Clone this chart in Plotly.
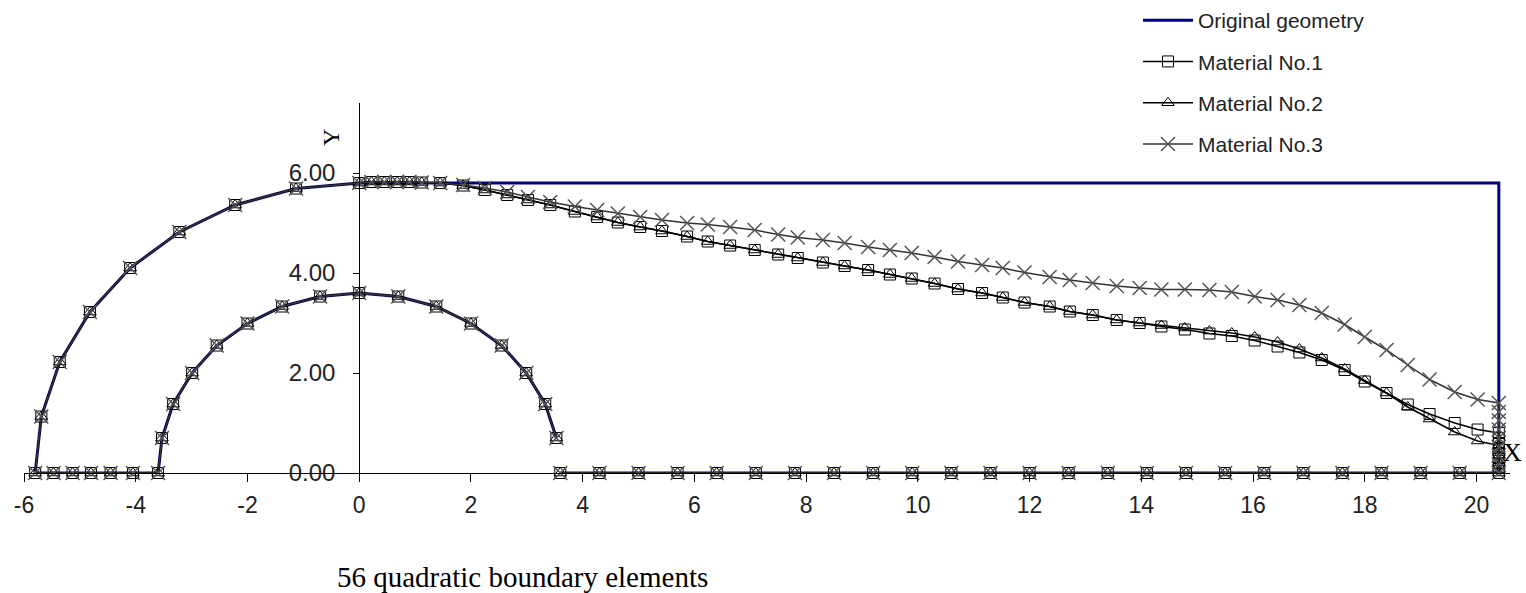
import plotly.graph_objects as go

# ---------------- data ----------------
# inner semicircular arc, from (3.53, 0.70) round to (-3.60, 0)
inner_x = [3.53, 3.33, 2.99, 2.55, 2.00, 1.38, 0.70, 0.00, -0.70, -1.38, -2.00, -2.55, -2.99, -3.33, -3.53, -3.60]
inner_y = [0.70, 1.38, 2.00, 2.55, 2.99, 3.33, 3.53, 3.60, 3.53, 3.33, 2.99, 2.55, 2.00, 1.38, 0.70, 0.00]

# bottom edge, left part (between the two arcs)
bl_x = [-4.05, -4.45, -4.80, -5.13, -5.47]
bl_y = [0.00, 0.00, 0.00, 0.00, 0.00]

# outer quarter arc, from (-5.80, 0) to (0, 5.80)
outer_x = [-5.80, -5.69, -5.36, -4.82, -4.10, -3.22, -2.22, -1.13, 0.00]
outer_y = [0.00, 1.13, 2.22, 3.22, 4.10, 4.82, 5.36, 5.69, 5.80]

# top edge nodes (deformed shapes)
top_x = [0.22, 0.45, 0.68, 0.90, 1.12, 1.45, 1.86, 2.25, 2.65, 3.02,
         3.42, 3.86, 4.26, 4.63, 5.03, 5.42, 5.87, 6.24, 6.64, 7.08,
         7.50, 7.85, 8.30, 8.69, 9.11, 9.50, 9.89, 10.30, 10.72, 11.15,
         11.52, 11.91, 12.36, 12.72, 13.13, 13.56, 13.97, 14.36, 14.78, 15.22,
         15.62, 16.03, 16.44, 16.83, 17.23, 17.64, 18.00, 18.39, 18.77, 19.16,
         19.61, 20.02, 20.40]
m1_top_y = [5.82, 5.82, 5.82, 5.82, 5.81, 5.80, 5.75, 5.66, 5.56, 5.46,
            5.36, 5.23, 5.12, 5.01, 4.92, 4.84, 4.73, 4.63, 4.55, 4.46,
            4.37, 4.30, 4.21, 4.14, 4.06, 3.97, 3.89, 3.79, 3.68, 3.60,
            3.51, 3.41, 3.33, 3.23, 3.16, 3.06, 3.00, 2.93, 2.87, 2.79,
            2.74, 2.65, 2.53, 2.41, 2.26, 2.06, 1.83, 1.60, 1.37, 1.18,
            1.00, 0.87, 0.80]
m2_top_y = [5.82, 5.82, 5.82, 5.82, 5.81, 5.80, 5.75, 5.66, 5.56, 5.46,
            5.36, 5.23, 5.12, 5.01, 4.92, 4.84, 4.73, 4.63, 4.55, 4.46,
            4.37, 4.30, 4.21, 4.14, 4.06, 3.97, 3.89, 3.79, 3.68, 3.60,
            3.51, 3.41, 3.33, 3.23, 3.16, 3.06, 3.00, 2.95, 2.90, 2.84,
            2.80, 2.72, 2.62, 2.48, 2.30, 2.08, 1.85, 1.60, 1.32, 1.08,
            0.82, 0.64, 0.55]
m3_top_y = [5.82, 5.82, 5.82, 5.82, 5.81, 5.80, 5.76, 5.70, 5.62, 5.52,
            5.42, 5.33, 5.26, 5.19, 5.12, 5.06, 5.00, 4.97, 4.92, 4.86,
            4.77, 4.71, 4.66, 4.60, 4.52, 4.46, 4.40, 4.32, 4.23, 4.16,
            4.10, 4.01, 3.92, 3.86, 3.80, 3.74, 3.70, 3.67, 3.67, 3.66,
            3.62, 3.53, 3.46, 3.36, 3.20, 2.97, 2.72, 2.46, 2.16, 1.87,
            1.62, 1.47, 1.40]

# right edge nodes (x = 20.4), top to bottom
right_x = [20.4, 20.4, 20.4, 20.4, 20.4, 20.4, 20.4, 20.4]
m1_right_y = [0.70, 0.60, 0.50, 0.40, 0.30, 0.20, 0.10, 0.00]
m2_right_y = [0.48, 0.41, 0.34, 0.27, 0.21, 0.14, 0.07, 0.00]
m3_right_y = [1.22, 1.05, 0.87, 0.70, 0.52, 0.35, 0.17, 0.00]

# bottom edge, right part, from x = 19.7 back to x = 3.6
br_x = [19.7, 19.0, 18.3, 17.6, 16.9, 16.2, 15.5, 14.8, 14.1, 13.4, 12.7, 12.0,
        11.3, 10.6, 9.9, 9.2, 8.5, 7.8, 7.1, 6.4, 5.7, 5.0, 4.3, 3.6]
br_y = [0.0] * 24

# original geometry corners (top-right, bottom-right, bottom end)
orig_corner_x = [20.4, 20.4, 3.6]
orig_corner_y = [5.8, 0.0, 0.0]

x_ticks = [-6, -4, -2, 0, 2, 4, 6, 8, 10, 12, 14, 16, 18, 20]
x_tick_text = ["-6", "-4", "-2", "0", "2", "4", "6", "8", "10", "12", "14", "16", "18", "20"]
y_ticks = [0, 2, 4, 6]
y_tick_text = ["0.00", "2.00", "4.00", "6.00"]

series_names = ["Original geometry", "Material No.1", "Material No.2", "Material No.3"]

# ---------------- figure ----------------
fig = go.Figure()

fig.add_trace(go.Scatter(
    x=inner_x + bl_x + outer_x + orig_corner_x,
    y=inner_y + bl_y + outer_y + orig_corner_y,
    mode="lines", name=series_names[0], legendgroup="g0",
    line=dict(color="#000080", width=3),
    cliponaxis=False,
))

mat_specs = [
    (m1_top_y, m1_right_y, "square-open", 11, "#000000", "#000000", 1.0),
    (m2_top_y, m2_right_y, "triangle-up-open", 11, "#000000", "#000000", 1.0),
    (m3_top_y, m3_right_y, "x-thin-open", 14, "#555555", "#333333", 1.5),
]
for i, (ty, ry, sym, sz, mcol, lcol, mlw) in enumerate(mat_specs):
    fig.add_trace(go.Scatter(
        x=inner_x + bl_x + outer_x + top_x + right_x + br_x,
        y=inner_y + bl_y + outer_y + ty + ry + br_y,
        mode="lines+markers", name=series_names[i + 1], legendgroup="g%d" % (i + 1),
        line=dict(color=lcol, width=1.5),
        marker=dict(symbol=sym, size=sz, color=mcol, line=dict(color=mcol, width=mlw)),
        cliponaxis=False,
    ))

L, R, T, B = 24, 16, 103, 120
xmin, xmax = -6.0, 20.6
ymin, ymax = 0.0, 7.4
pw = 1526 - L - R
ph = 593 - T - B

def px_to_paper_x(px):
    return (px - L) / pw

def px_to_paper_y(py):
    return (593 - B - py) / ph

fig.update_layout(
    width=1526, height=593,
    margin=dict(l=L, r=R, t=T, b=B, autoexpand=False),
    plot_bgcolor="white", paper_bgcolor="white",
    font=dict(family="Liberation Sans", color="#222222"),
    xaxis=dict(
        range=[xmin, xmax], tickvals=x_ticks, ticktext=x_tick_text,
        showline=True, linecolor="black", linewidth=1,
        ticks="outside", ticklen=8, tickcolor="black", tickwidth=1,
        tickfont=dict(size=23, family="Liberation Sans", color="#222222"),
        ticklabelstandoff=3,
        showgrid=False, zeroline=False,
    ),
    yaxis=dict(
        range=[ymin, ymax], tickvals=y_ticks, ticktext=y_tick_text,
        anchor="free", position=(0 - xmin) / (xmax - xmin),
        showline=True, linecolor="black", linewidth=1,
        ticks="outside", ticklen=6, tickcolor="black", tickwidth=1,
        tickfont=dict(size=24, family="Liberation Sans", color="#222222"),
        ticklabelstandoff=13,
        showgrid=False, zeroline=False,
    ),
    legend=dict(
        xref="container", yref="container",
        x=1138 / 1526, y=1.0, xanchor="left", yanchor="top",
        font=dict(size=21, family="Liberation Sans", color="#222222"),
        itemwidth=50, traceorder="grouped", tracegroupgap=11,
        bgcolor="rgba(0,0,0,0)",
    ),
    showlegend=True,
    annotations=[
        dict(text="56 quadratic boundary elements", xref="paper", yref="paper",
             x=px_to_paper_x(335), y=px_to_paper_y(577), xanchor="left", yanchor="middle",
             showarrow=False, font=dict(family="Liberation Serif", size=29, color="black")),
        dict(text="Y", xref="paper", yref="paper", textangle=-90,
             x=px_to_paper_x(331), y=px_to_paper_y(138), xanchor="center", yanchor="middle",
             showarrow=False, font=dict(family="Liberation Serif", size=24, color="black")),
        dict(text="X", xref="paper", yref="paper",
             x=px_to_paper_x(1524), y=px_to_paper_y(452), xanchor="right", yanchor="middle",
             showarrow=False, font=dict(family="Liberation Serif", size=26, color="black")),
    ],
)

fig.write_html("out.html")
